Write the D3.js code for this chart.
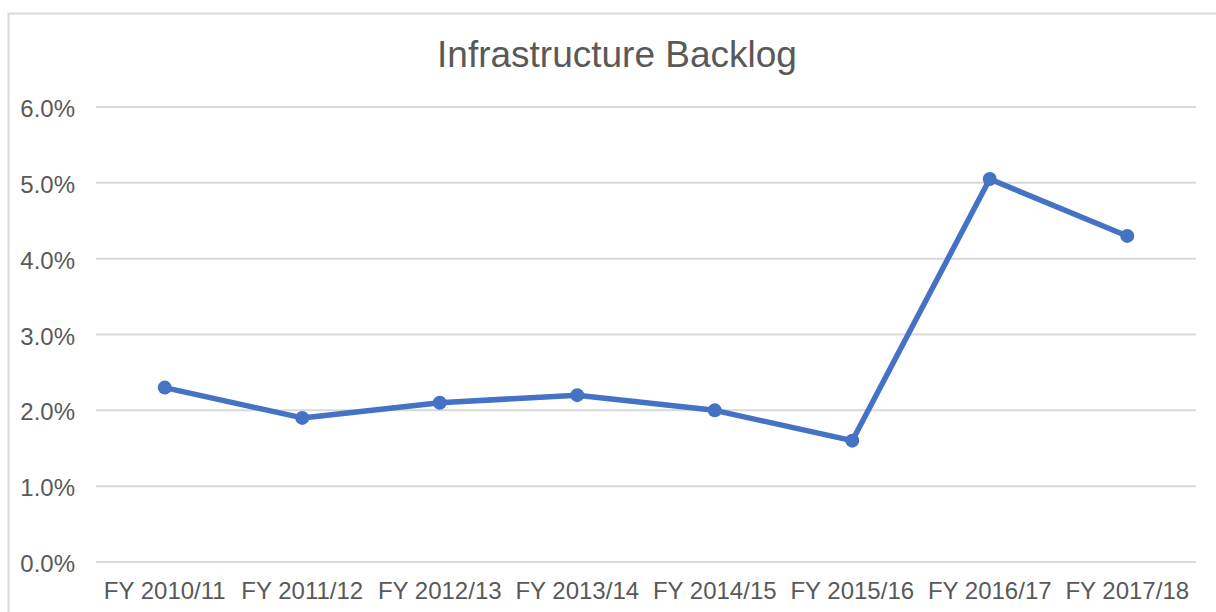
<!DOCTYPE html>
<html>
<head>
<meta charset="utf-8">
<script src="https://cdn.jsdelivr.net/npm/d3@7"></script>
<style>
	body { margin: 0; background: #fff; }
	svg { display: block; font-family: "Liberation Sans", Arial, sans-serif; }
</style>
</head>
<body>
<script>
	// chart data
	var categories = ["FY 2010/11", "FY 2011/12", "FY 2012/13", "FY 2013/14", "FY 2014/15", "FY 2015/16", "FY 2016/17", "FY 2017/18"];
	var backlog = [2.3, 1.9, 2.1, 2.2, 2.0, 1.6, 5.05, 4.3];
	var yTicks = [0, 1, 2, 3, 4, 5, 6];
	var title = "Infrastructure Backlog";

	var width = 1216;
	var height = 612;
	var marginLeft = 96;
	var marginRight = 20;
	var marginTop = 107;
	var marginBottom = 50;

	const svg = d3
		.select("body")
		.append("svg")
		.attr("width", width)
		.attr("height", height);

	// outer chart border (runs off right/bottom)
	svg.append("rect")
		.attr("x", 8.5)
		.attr("y", 13.5)
		.attr("width", width)
		.attr("height", height)
		.style("fill", "none")
		.style("stroke", "#d9d9d9")
		.style("stroke-width", 2);

	svg.append("text")
		.attr("x", 617)
		.attr("y", 67)
		.style("text-anchor", "middle")
		.style("font-size", "37px")
		.style("fill", "#595959")
		.text(title);

	const x = d3.scaleBand()
		.domain(categories)
		.range([marginLeft, width - marginRight]);

	const y = d3.scaleLinear()
		.domain([0, 6])
		.range([height - marginBottom, marginTop]);

	// gridlines
	svg.append("g")
		.selectAll("line")
		.data(yTicks)
		.join("line")
		.attr("x1", marginLeft)
		.attr("x2", width - marginRight)
		.attr("y1", (d) => y(d))
		.attr("y2", (d) => y(d))
		.style("stroke", "#d9d9d9")
		.style("stroke-width", 2);

	// y axis labels
	const yAxis = svg.append("g")
		.attr("transform", "translate(" + 75 + ",0)")
		.call(d3.axisLeft(y).tickValues(yTicks).tickSize(0).tickPadding(0).tickFormat((d) => d.toFixed(1) + "%"));
	yAxis.select(".domain").remove();
	yAxis.selectAll("text")
		.style("font-size", "24px")
		.style("fill", "#595959")
		.style("font-family", "Liberation Sans, Arial, sans-serif")
		.attr("dy", "0.4em");

	// x axis labels
	const xAxis = svg.append("g")
		.attr("transform", "translate(0," + 599 + ")")
		.call(d3.axisBottom(x).tickSize(0).tickPadding(0));
	xAxis.select(".domain").remove();
	xAxis.selectAll("text")
		.style("font-size", "24px")
		.style("fill", "#595959")
		.style("font-family", "Liberation Sans, Arial, sans-serif")
		.attr("dy", 0)
		.attr("y", 0);

	const cx = (d, i) => x(categories[i]) + x.bandwidth() / 2;

	const line = d3.line()
		.x((d, i) => cx(d, i))
		.y((d) => y(d));

	svg.append("path")
		.datum(backlog)
		.attr("d", line)
		.style("fill", "none")
		.style("stroke", "#4472c4")
		.style("stroke-width", 5.5)
		.style("stroke-linejoin", "round");

	svg.append("g")
		.selectAll("circle")
		.data(backlog)
		.join("circle")
		.attr("cx", cx)
		.attr("cy", (d) => y(d))
		.attr("r", 7)
		.style("fill", "#4472c4");
</script>
</body>
</html>
